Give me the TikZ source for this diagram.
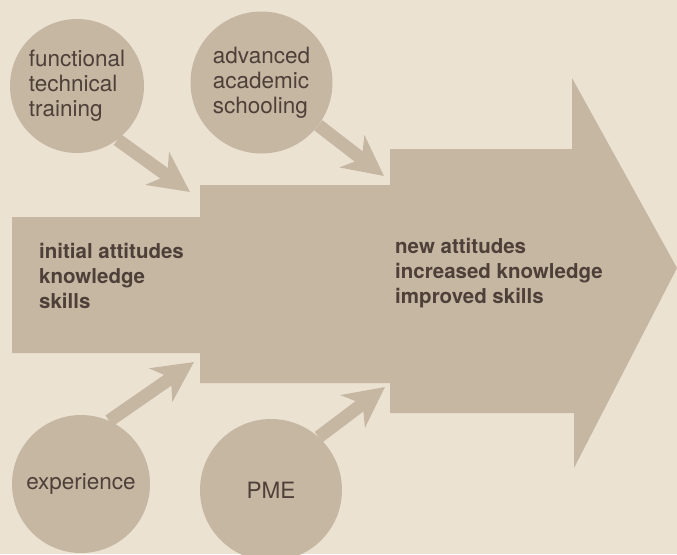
\documentclass[tikz,border=0pt]{standalone}
\usepackage{fontspec}
\setmainfont{TeX Gyre Heros}
\usetikzlibrary{arrows.meta}
\definecolor{paper}{RGB}{236,226,210}
\definecolor{bodycol}{RGB}{198,183,163}
\definecolor{ink}{RGB}{78,64,56}
\tikzset{
  bubble/.style={circle, fill=bodycol, inner sep=0pt, text=ink, align=left,
    font=\fontsize{22.5}{25}\selectfont},
  bigtext/.style={anchor=base west, inner sep=0pt, text=ink, align=left,
    font=\bfseries\fontsize{20.5}{25}\selectfont},
  feed/.style={draw=bodycol, line width=13pt,
    -{Stealth[length=40pt, width=40pt, inset=12pt]}},
}
\begin{document}
\begin{tikzpicture}[x=1pt, y=-1pt]
\fill[paper] (0,0) rectangle (677,554);
\useasboundingbox (0,0) rectangle (677,554);
% main stepped arrow
\fill[bodycol] (12,217) -- (200,217) -- (200,185) -- (390,185) -- (390,149)
  -- (572,149) -- (572,78) -- (677,268) -- (574,468) -- (574,413)
  -- (390,413) -- (390,383) -- (200,383) -- (200,353) -- (12,353) -- cycle;
\node[bigtext] (init) at (39,308) {initial attitudes\\knowledge\\skills};
\node[bigtext] (new) at (395,303) {new attitudes\\increased knowledge\\improved skills};
% bubbles
\node[bubble, minimum size=134pt] (ftt) at (77,86) {functional\\technical\\training};
\node[bubble, minimum size=142pt] (aas) at (261.5,82.5) {advanced\\academic\\schooling};
\node[bubble, minimum size=138pt] (exp) at (81,484) {experience};
\node[bubble, minimum size=142pt] (pme) at (271,490) {PME};
% arrow tips
\coordinate (t1) at (190,192);
\coordinate (t2) at (384,176);
\coordinate (t3) at (194,362);
\coordinate (t4) at (385,387);
\draw[feed] (ftt.-53) -- (t1);
\draw[feed] (aas.-37) -- (t2);
\draw[feed] (exp.66) -- (t3);
\draw[feed] (pme.48) -- (t4);
\end{tikzpicture}
\end{document}
